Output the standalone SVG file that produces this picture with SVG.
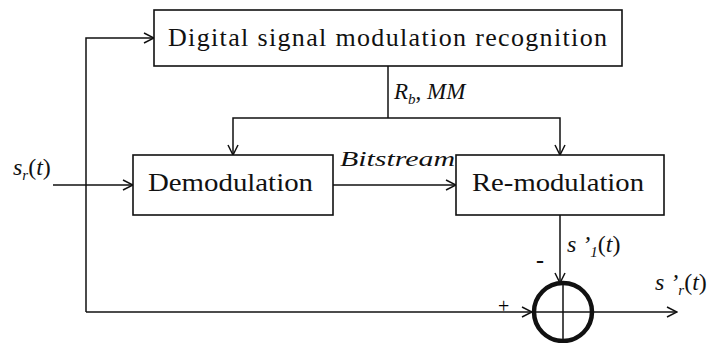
<svg xmlns="http://www.w3.org/2000/svg" width="708" height="343" viewBox="0 0 708 343">
<defs>
<marker id="arr" viewBox="0 0 12 12" refX="11" refY="6" markerWidth="12" markerHeight="12" markerUnits="userSpaceOnUse" orient="auto">
<polyline points="1,1 11,6 1,11" fill="none" stroke="#111" stroke-width="1.5"/>
</marker>
</defs>
<style>
.box{fill:#fff;stroke:#111;stroke-width:1.6}
.ln{fill:none;stroke:#111;stroke-width:1.5}
</style>
<rect width="708" height="343" fill="#fff"/>
<g id="connectors">
<polyline class="ln" points="53,185 133,185" marker-end="url(#arr)"/>
<polyline class="ln" points="86,312 86,38 154,38" marker-end="url(#arr)"/>
<polyline class="ln" points="86,312 532,312" marker-end="url(#arr)"/>
<polyline class="ln" points="388,66 388,118"/>
<polyline class="ln" points="388,118 233,118 233,155" marker-end="url(#arr)"/>
<polyline class="ln" points="388,118 560,118 560,155" marker-end="url(#arr)"/>
<polyline class="ln" points="333,185 456,185" marker-end="url(#arr)"/>
<polyline class="ln" points="560,215 560,283" marker-end="url(#arr)"/>
<polyline class="ln" points="593,312 677,312" marker-end="url(#arr)"/>
</g>
<g font-family="Liberation Serif, Times New Roman, DejaVu Serif, serif" fill="#111">
<g id="recognition">
<rect class="box" x="154" y="10" width="468" height="56"/>
<text x="168" y="46" font-size="26" textLength="439" lengthAdjust="spacing">Digital  signal  modulation  recognition</text>
</g>
<g id="demodulation">
<rect class="box" x="133" y="155" width="200" height="60"/>
<text x="148" y="191" font-size="26" textLength="165" lengthAdjust="spacingAndGlyphs">Demodulation</text>
</g>
<g id="remodulation">
<rect class="box" x="456" y="155" width="208" height="60"/>
<text x="472" y="191" font-size="26" textLength="172" lengthAdjust="spacingAndGlyphs">Re-modulation</text>
</g>
<g id="summer">
<circle cx="563" cy="312" r="29" fill="none" stroke="#111" stroke-width="4.5"/>
<line class="ln" x1="563" y1="283" x2="563" y2="342"/>
<line class="ln" x1="532" y1="312" x2="593" y2="312"/>
</g>
<g id="labels">
<text font-style="italic" x="13" y="175" font-size="24">s<tspan font-size="15" dy="5">r</tspan><tspan dy="-5" font-style="normal">(</tspan>t<tspan font-style="normal">)</tspan></text>
<text font-style="italic" x="394" y="99" font-size="23">R<tspan font-size="15" dy="5">b</tspan><tspan dy="-5" font-style="normal">,</tspan> MM</text>
<text font-style="italic" x="340" y="166" font-size="22" textLength="115" lengthAdjust="spacingAndGlyphs">Bitstream</text>
<text font-style="italic" x="567" y="252" font-size="24">s ’<tspan font-size="15" dy="5">1</tspan><tspan dy="-5" font-style="normal">(</tspan>t<tspan font-style="normal">)</tspan></text>
<text font-style="italic" x="655" y="290" font-size="24">s ’<tspan font-size="15" dy="5">r</tspan><tspan dy="-5" font-style="normal">(</tspan>t<tspan font-style="normal">)</tspan></text>
<text x="536" y="268" font-size="24" font-weight="bold">-</text>
<text x="498" y="313" font-size="20" fill="#000">+</text>
</g>
</g>
</svg>
